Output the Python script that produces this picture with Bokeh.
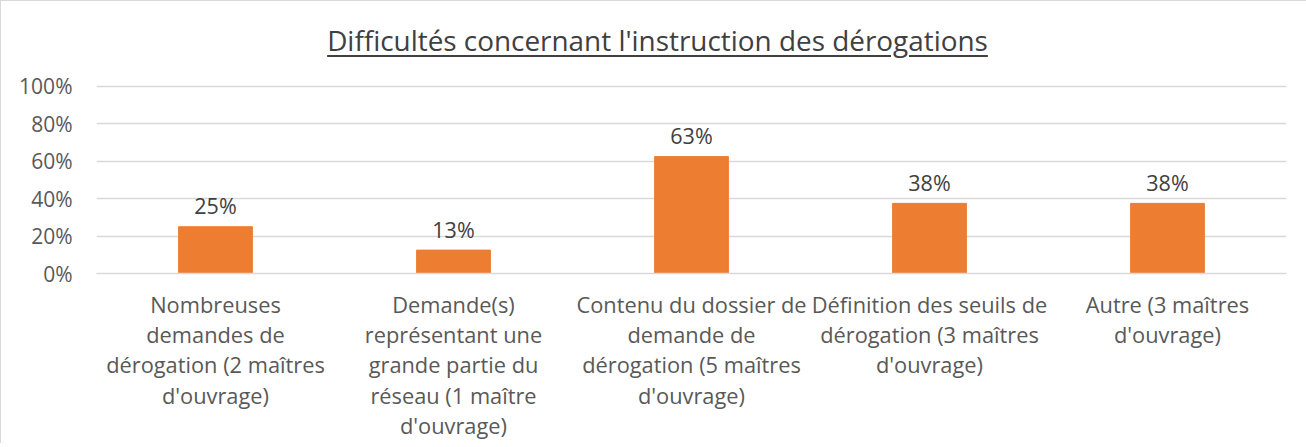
from bokeh.plotting import figure
from bokeh.models import FactorRange, Range1d, Div
from bokeh.layouts import column
from bokeh.core.properties import value
from bokeh.embed import file_html
from bokeh.resources import INLINE

title = "Difficultés concernant l'instruction des dérogations"
categories = [
    "Nombreuses\ndemandes de\ndérogation (2 maîtres\nd'ouvrage)",
    "Demande(s)\nreprésentant une\ngrande partie du\nréseau (1 maître\nd'ouvrage)",
    "Contenu du dossier de\ndemande de\ndérogation (5 maîtres\nd'ouvrage)",
    "Définition des seuils de\ndérogation (3 maîtres\nd'ouvrage)",
    "Autre (3 maîtres\nd'ouvrage)",
]
values = [25, 12.5, 62.5, 37.5, 37.5]
value_labels = ["25%", "13%", "63%", "38%", "38%"]
y_ticks = [0, 20, 40, 60, 80, 100]
y_tick_labels = ["0%", "20%", "40%", "60%", "80%", "100%"]

FONT = "Open Sans"
GREY = "#595959"

title_div = Div(
    text="<u>" + title + "</u>",
    width=1295, height=56,
    styles={"font-family": FONT, "font-size": "27.9px", "color": "#404040",
            "text-align": "center", "width": "1295px", "padding-top": "21px",
            "padding-left": "8px",
            "line-height": "1", "box-sizing": "border-box",
            "text-underline-offset": "4px", "text-decoration-thickness": "1.5px"},
)

p = figure(
    x_range=FactorRange(*categories, range_padding=0),
    y_range=Range1d(0, 108),
    frame_width=1190, frame_height=202,
    output_backend="svg", toolbar_location=None,
    min_border_top=4, min_border_left=95, min_border_right=10, min_border_bottom=0,
)
p.outline_line_color = None
p.background_fill_color = "white"
p.border_fill_color = "white"

p.vbar(x=categories, top=values, width=0.31, color="#ED7D31")
p.text(x=categories, y=values, text=value_labels, text_align="center",
       text_baseline="alphabetic", y_offset=-21, text_font=value(FONT),
       text_font_size="21.5px", text_color="#404040")

p.xgrid.grid_line_color = None
p.ygrid.grid_line_color = "#d9d9d9"
p.ygrid.grid_line_width = 1.3

p.yaxis.ticker = y_ticks
p.yaxis.major_label_overrides = {t: l for t, l in zip(y_ticks, y_tick_labels)}
for ax in (p.xaxis, p.yaxis):
    ax.axis_line_color = None
    ax.major_tick_line_color = None
    ax.minor_tick_line_color = None
    ax.major_label_text_font = FONT
    ax.major_label_text_font_size = "21px"
    ax.major_label_text_color = GREY
p.yaxis.major_label_standoff = 18
p.xaxis.major_label_text_font_size = "21.8px"
p.xaxis.major_label_standoff = 10
p.xaxis.major_label_text_line_height = 1.05
p.xaxis.axis_line_color = "#d9d9d9"
p.xaxis.axis_line_width = 1.3

layout = column(title_div, p, spacing=0,
                styles={"border-left": "1px solid #d9d9d9",
                        "border-top": "1px solid #d9d9d9"})

open("out.html", "w").write(file_html(layout, INLINE))
